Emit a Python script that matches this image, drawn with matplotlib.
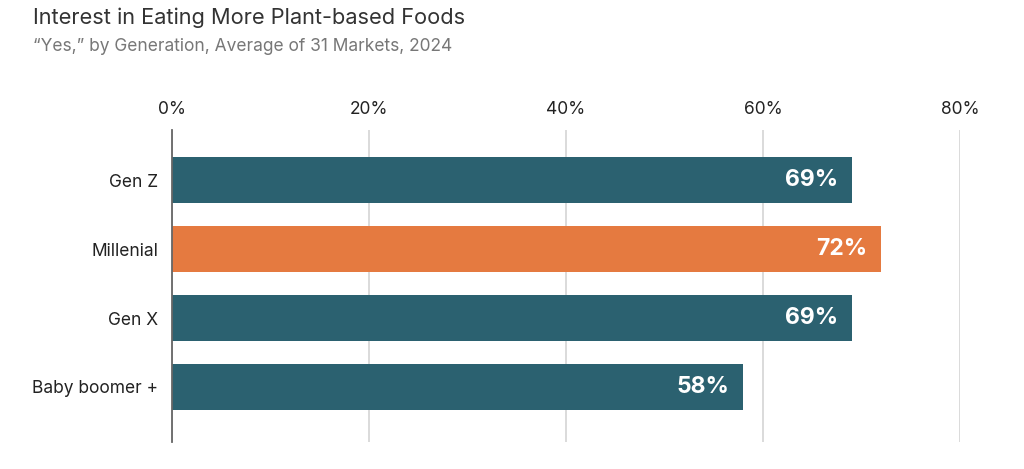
import matplotlib.pyplot as plt

# Data
generations = ["Gen Z", "Millenial", "Gen X", "Baby boomer +"]
share_yes = [69, 72, 69, 58]
bar_colors = ["#2b6170", "#e57a40", "#2b6170", "#2b6170"]
x_ticks = [0, 20, 40, 60, 80]

plt.rcParams["font.family"] = ["Inter", "DejaVu Sans"]

fig = plt.figure(figsize=(10.24, 4.69), dpi=100)
ax = fig.add_axes([0.168, 0.0576, 0.7695, 0.6652])

y = list(range(len(generations)))
bars = ax.barh(y, share_yes, height=0.667, color=bar_colors, zorder=3)

for bar, v in zip(bars, share_yes):
    ax.annotate(f"{v}%", xy=(bar.get_width(), bar.get_y() + bar.get_height() / 2),
                xytext=(-10, 0), textcoords="offset points",
                ha="right", va="center", color="white",
                fontsize=16.5, fontweight="bold", zorder=4)

ax.set_xlim(0, 80)
ax.set_ylim(3.797, -0.725)
ax.set_xticks(x_ticks)
ax.set_xticklabels([f"{t}%" for t in x_ticks])
ax.xaxis.tick_top()
ax.tick_params(axis="x", length=0, pad=9, labelsize=12.5, colors="#222222")
ax.tick_params(axis="y", length=0, pad=10, labelsize=12.5, colors="#222222")
ax.set_yticks(y)
ax.set_yticklabels(generations)

ax.grid(axis="x", color="#d4d4d4", linewidth=1.2, zorder=0)
for s in ["top", "right", "bottom"]:
    ax.spines[s].set_visible(False)
ax.spines["left"].set_color("#666666")
ax.spines["left"].set_linewidth(1.3)
ax.spines["left"].set_zorder(5)

fig.text(0.032, 0.985, "Interest in Eating More Plant-based Foods",
         fontsize=15.7, color="#333333", ha="left", va="top")
fig.text(0.032, 0.918, "\u201cYes,\u201d by Generation, Average of 31 Markets, 2024",
         fontsize=12.5, color="#777777", ha="left", va="top")

fig.savefig("out.png", dpi=100, facecolor="white")
